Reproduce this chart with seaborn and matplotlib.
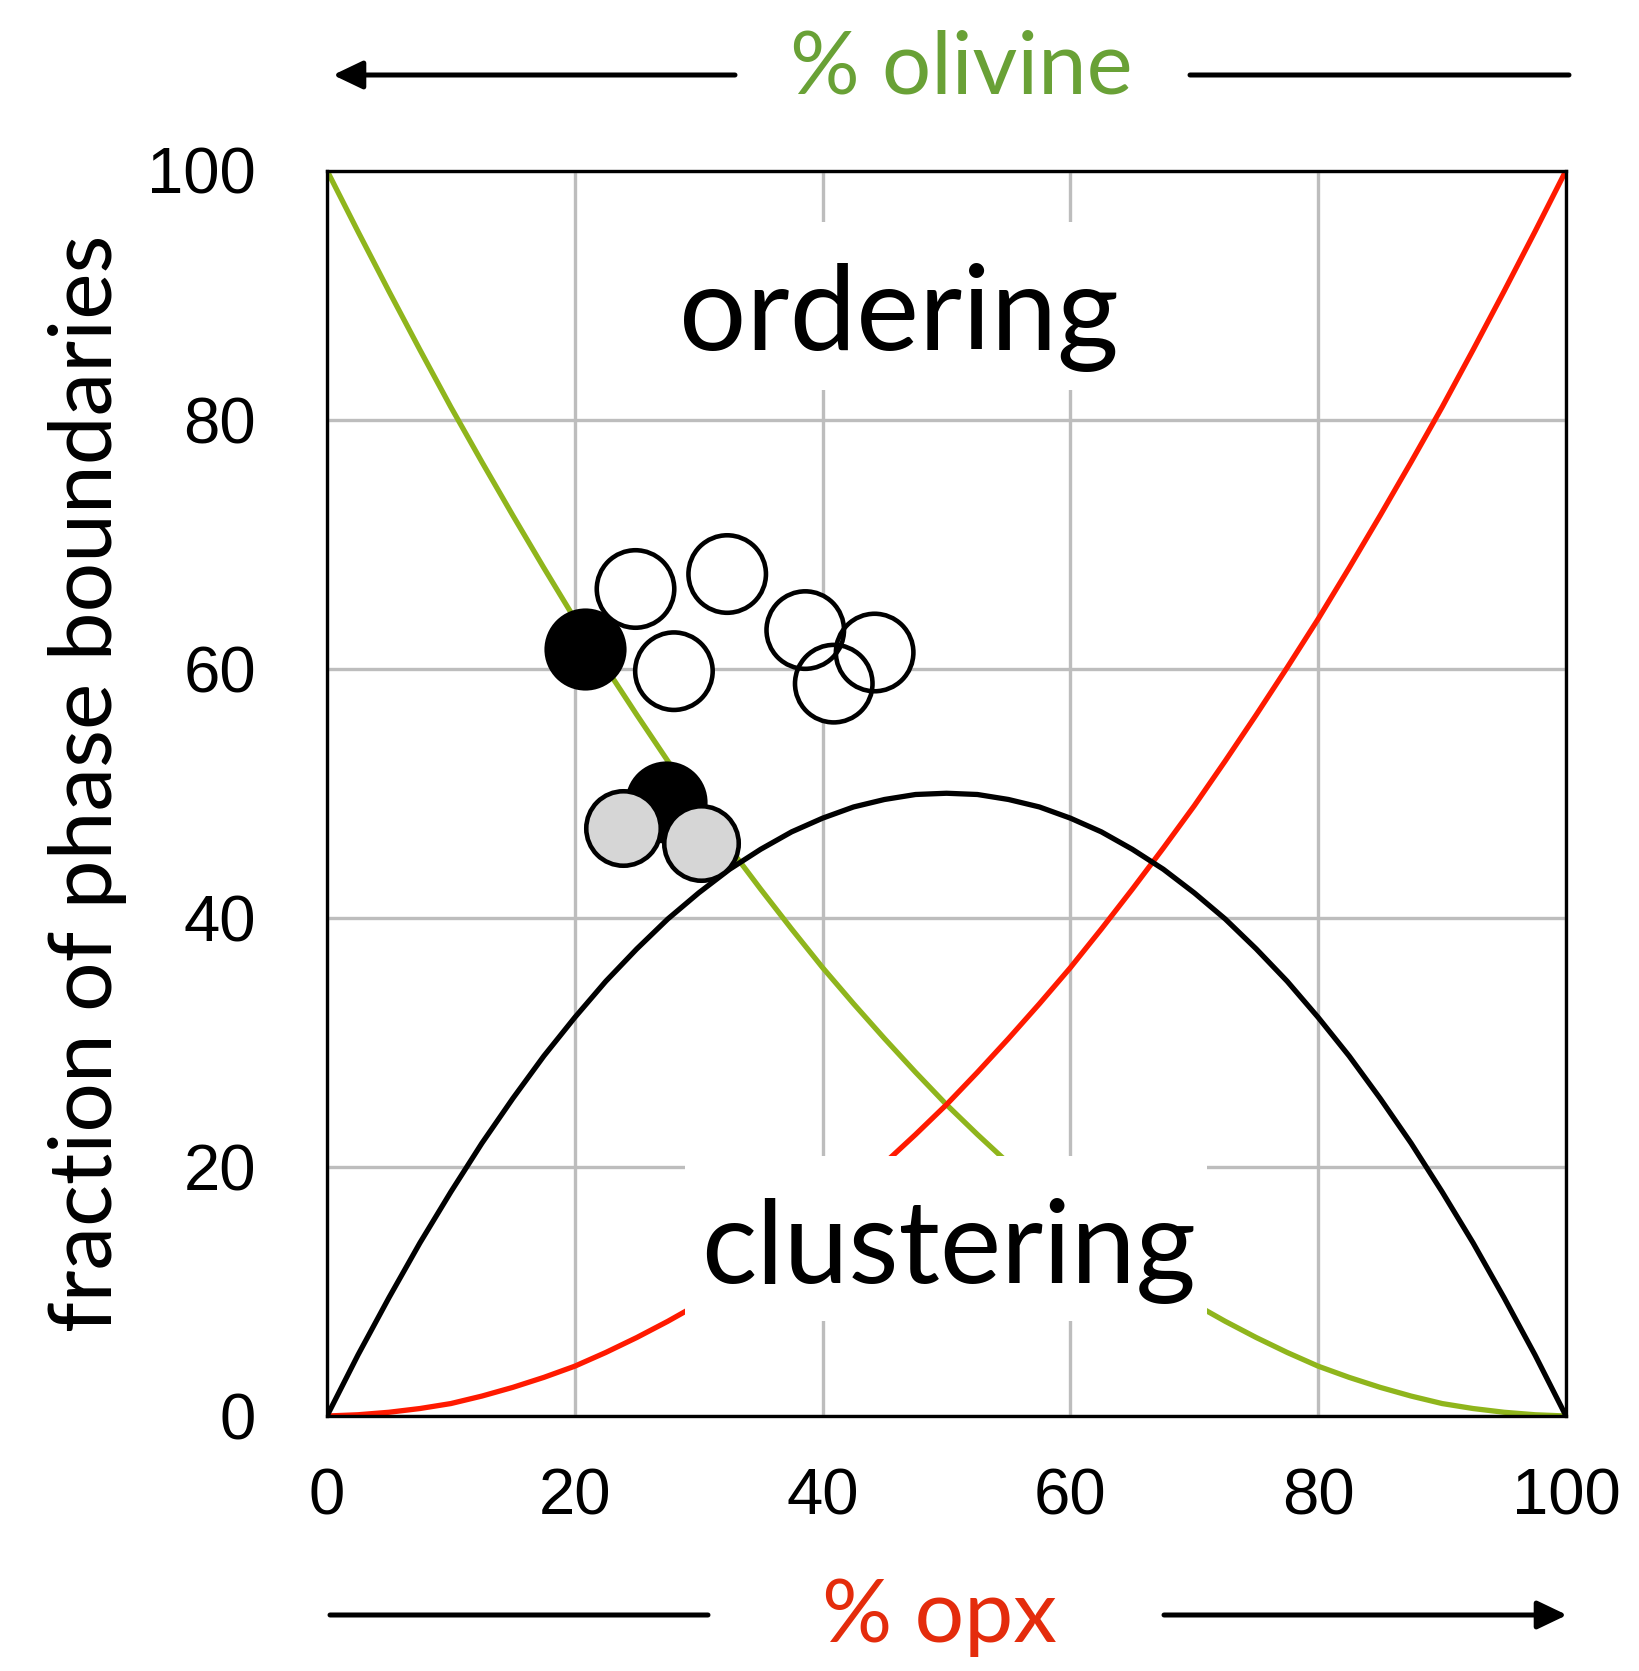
import matplotlib
matplotlib.use("Agg")
import matplotlib.pyplot as plt
import pandas as pd
import seaborn as sns
from matplotlib.patches import Rectangle, FancyArrowPatch, ArrowStyle

# ---- data -------------------------------------------------------------
opx_pct = [0, 2.5, 5, 7.5, 10, 12.5, 15, 17.5, 20, 22.5, 25, 27.5, 30,
           32.5, 35, 37.5, 40, 42.5, 45, 47.5, 50, 52.5, 55, 57.5, 60,
           62.5, 65, 67.5, 70, 72.5, 75, 77.5, 80, 82.5, 85, 87.5, 90,
           92.5, 95, 97.5, 100]
# fraction of olivine-olivine boundaries
ol_ol = [100, 95.1, 90.3, 85.6, 81, 76.6, 72.3, 68.1, 64, 60.1, 56.3,
         52.6, 49, 45.6, 42.3, 39.1, 36, 33.1, 30.3, 27.6, 25, 22.6, 20.3,
         18.1, 16, 14.1, 12.3, 10.6, 9, 7.6, 6.3, 5.1, 4, 3.1, 2.3, 1.6,
         1, 0.6, 0.3, 0.1, 0]
# fraction of opx-opx boundaries
opx_opx = [0, 0.1, 0.3, 0.6, 1, 1.6, 2.3, 3.1, 4, 5.1, 6.3, 7.6, 9,
           10.6, 12.3, 14.1, 16, 18.1, 20.3, 22.6, 25, 27.6, 30.3, 33.1,
           36, 39.1, 42.3, 45.6, 49, 52.6, 56.3, 60.1, 64, 68.1, 72.3,
           76.6, 81, 85.6, 90.3, 95.1, 100]
# fraction of olivine-opx boundaries
ol_opx = [0, 4.9, 9.5, 13.9, 18, 21.9, 25.5, 28.9, 32, 34.9, 37.5, 39.9,
          42, 43.9, 45.5, 46.9, 48, 48.9, 49.5, 49.9, 50, 49.9, 49.5, 48.9,
          48, 46.9, 45.5, 43.9, 42, 39.9, 37.5, 34.9, 32, 28.9, 25.5, 21.9,
          18, 13.9, 9.5, 4.9, 0]

open_x = [24.9, 32.3, 28.0, 38.6, 44.2, 40.9]
open_y = [66.4, 67.6, 59.8, 63.1, 61.3, 58.8]
solid_x = [20.8, 27.4]
solid_y = [61.6, 49.3]
grey_x = [23.9, 30.2]
grey_y = [47.2, 46.0]

x_ticks = [0, 20, 40, 60, 80, 100]
y_ticks = [0, 20, 40, 60, 80, 100]

# ---- style ------------------------------------------------------------
sns.set_theme(style="white")
plt.rcParams["font.family"] = ["Lato", "DejaVu Sans"]

W, H = 1640, 1671
fig = plt.figure(figsize=(W / 100, H / 100), dpi=100)
fig.patch.set_facecolor("white")
ax = fig.add_axes([327 / W, 1 - 1416 / H, (1566 - 327) / W, (1416 - 170.5) / H])
ax.set_facecolor("white")

n = len(opx_pct)
curves = pd.DataFrame({
    "opx": opx_pct * 3,
    "frac": ol_ol + opx_opx + ol_opx,
    "kind": ["ol-ol"] * n + ["opx-opx"] * n + ["ol-opx"] * n,
})
palette = {"ol-ol": "#8fb51c", "opx-opx": "#ff1a00", "ol-opx": "#000000"}
sns.lineplot(data=curves, x="opx", y="frac", hue="kind", palette=palette,
             linewidth=3.8, legend=False, ax=ax, zorder=3)

# open symbols: white fill first, then all outlines on top
sns.scatterplot(x=open_x, y=open_y, s=3114, color="white", linewidth=0,
                ax=ax, zorder=4, legend=False)
ax.scatter(open_x, open_y, s=3114, facecolors="none", edgecolors="black",
           linewidths=3.3, zorder=5)
sns.scatterplot(x=solid_x, y=solid_y, s=3500, color="black", linewidth=0,
                ax=ax, zorder=6, legend=False)
sns.scatterplot(x=grey_x, y=grey_y, s=2875, color="#d6d6d6",
                edgecolor="black", linewidth=3.3, ax=ax, zorder=7, legend=False)

# white panels behind the region labels
ax.add_patch(Rectangle((27.0, 82.4), 38.5, 13.5, facecolor="white",
                       edgecolor="none", zorder=8))
ax.add_patch(Rectangle((28.9, 7.6), 42.1, 13.3, facecolor="white",
                       edgecolor="none", zorder=8))

ax.set_xlim(0, 100)
ax.set_ylim(0, 100)
ax.set_xticks(x_ticks)
ax.set_yticks(y_ticks)
ax.set_xticklabels([str(v) for v in x_ticks])
ax.set_yticklabels([str(v) for v in y_ticks])
ax.set_xlabel("")
ax.set_ylabel("")
ax.grid(True, color="#bdbdbd", linewidth=2.4, zorder=0)
ax.set_axisbelow(True)
for sp in ax.spines.values():
    sp.set_visible(True)
    sp.set_color("black")
    sp.set_linewidth(2.4)
    sp.set_zorder(9)
ax.tick_params(axis="both", which="major", direction="out", length=18,
               width=2, color="#1515c8", labelsize=47, labelcolor="black")
ax.tick_params(axis="x", pad=19)
ax.tick_params(axis="y", pad=33)
for lab in ax.get_xticklabels() + ax.get_yticklabels():
    lab.set_family(["Liberation Sans", "DejaVu Sans"])

renderer = fig.canvas.get_renderer()


def fit_width(t, target):
    bb = t.get_window_extent(renderer)
    t.set_fontsize(t.get_fontsize() * target / bb.width)


def fit_height(t, target):
    bb = t.get_window_extent(renderer)
    t.set_fontsize(t.get_fontsize() * target / bb.height)


t_ord = fig.text(899 / W, 1 - 350 / H, "ordering", ha="center", va="baseline",
                 color="black", fontsize=80, zorder=10)
fit_width(t_ord, 440)
t_clu = fig.text(948.5 / W, 1 - 1283 / H, "clustering", ha="center",
                 va="baseline", color="black", fontsize=80, zorder=10)
fit_width(t_clu, 495)
t_ol = fig.text(961 / W, 1 - 93 / H, "% olivine", ha="center", va="baseline",
                color="#69a136", fontsize=60)
fit_width(t_ol, 343)
t_opx = fig.text(939 / W, 1 - 1642 / H, "% opx", ha="center", va="baseline",
                 color="#e42c0c", fontsize=60)
fit_width(t_opx, 235)
t_y = fig.text(112 / W, 1 - 783 / H, "fraction of phase boundaries",
               rotation=90, rotation_mode="anchor", ha="center",
               va="baseline", color="black", fontsize=60)
fit_height(t_y, 1098)

# direction arrows for the two composition axes
style = ArrowStyle("-|>", head_length=18, head_width=8.6)


def hline(x0, x1, y, head):
    p = FancyArrowPatch((x0 / W, 1 - y / H), (x1 / W, 1 - y / H),
                        transform=fig.transFigure,
                        arrowstyle=style if head else "-",
                        mutation_scale=1, linewidth=3.6, color="black",
                        shrinkA=0, shrinkB=0)
    fig.add_artist(p)


hline(735, 333, 75, True)
hline(1190, 1569, 75, False)
hline(330, 708, 1615, False)
hline(1164, 1567, 1615, True)

fig.savefig("out.png", dpi=100, facecolor="white")
